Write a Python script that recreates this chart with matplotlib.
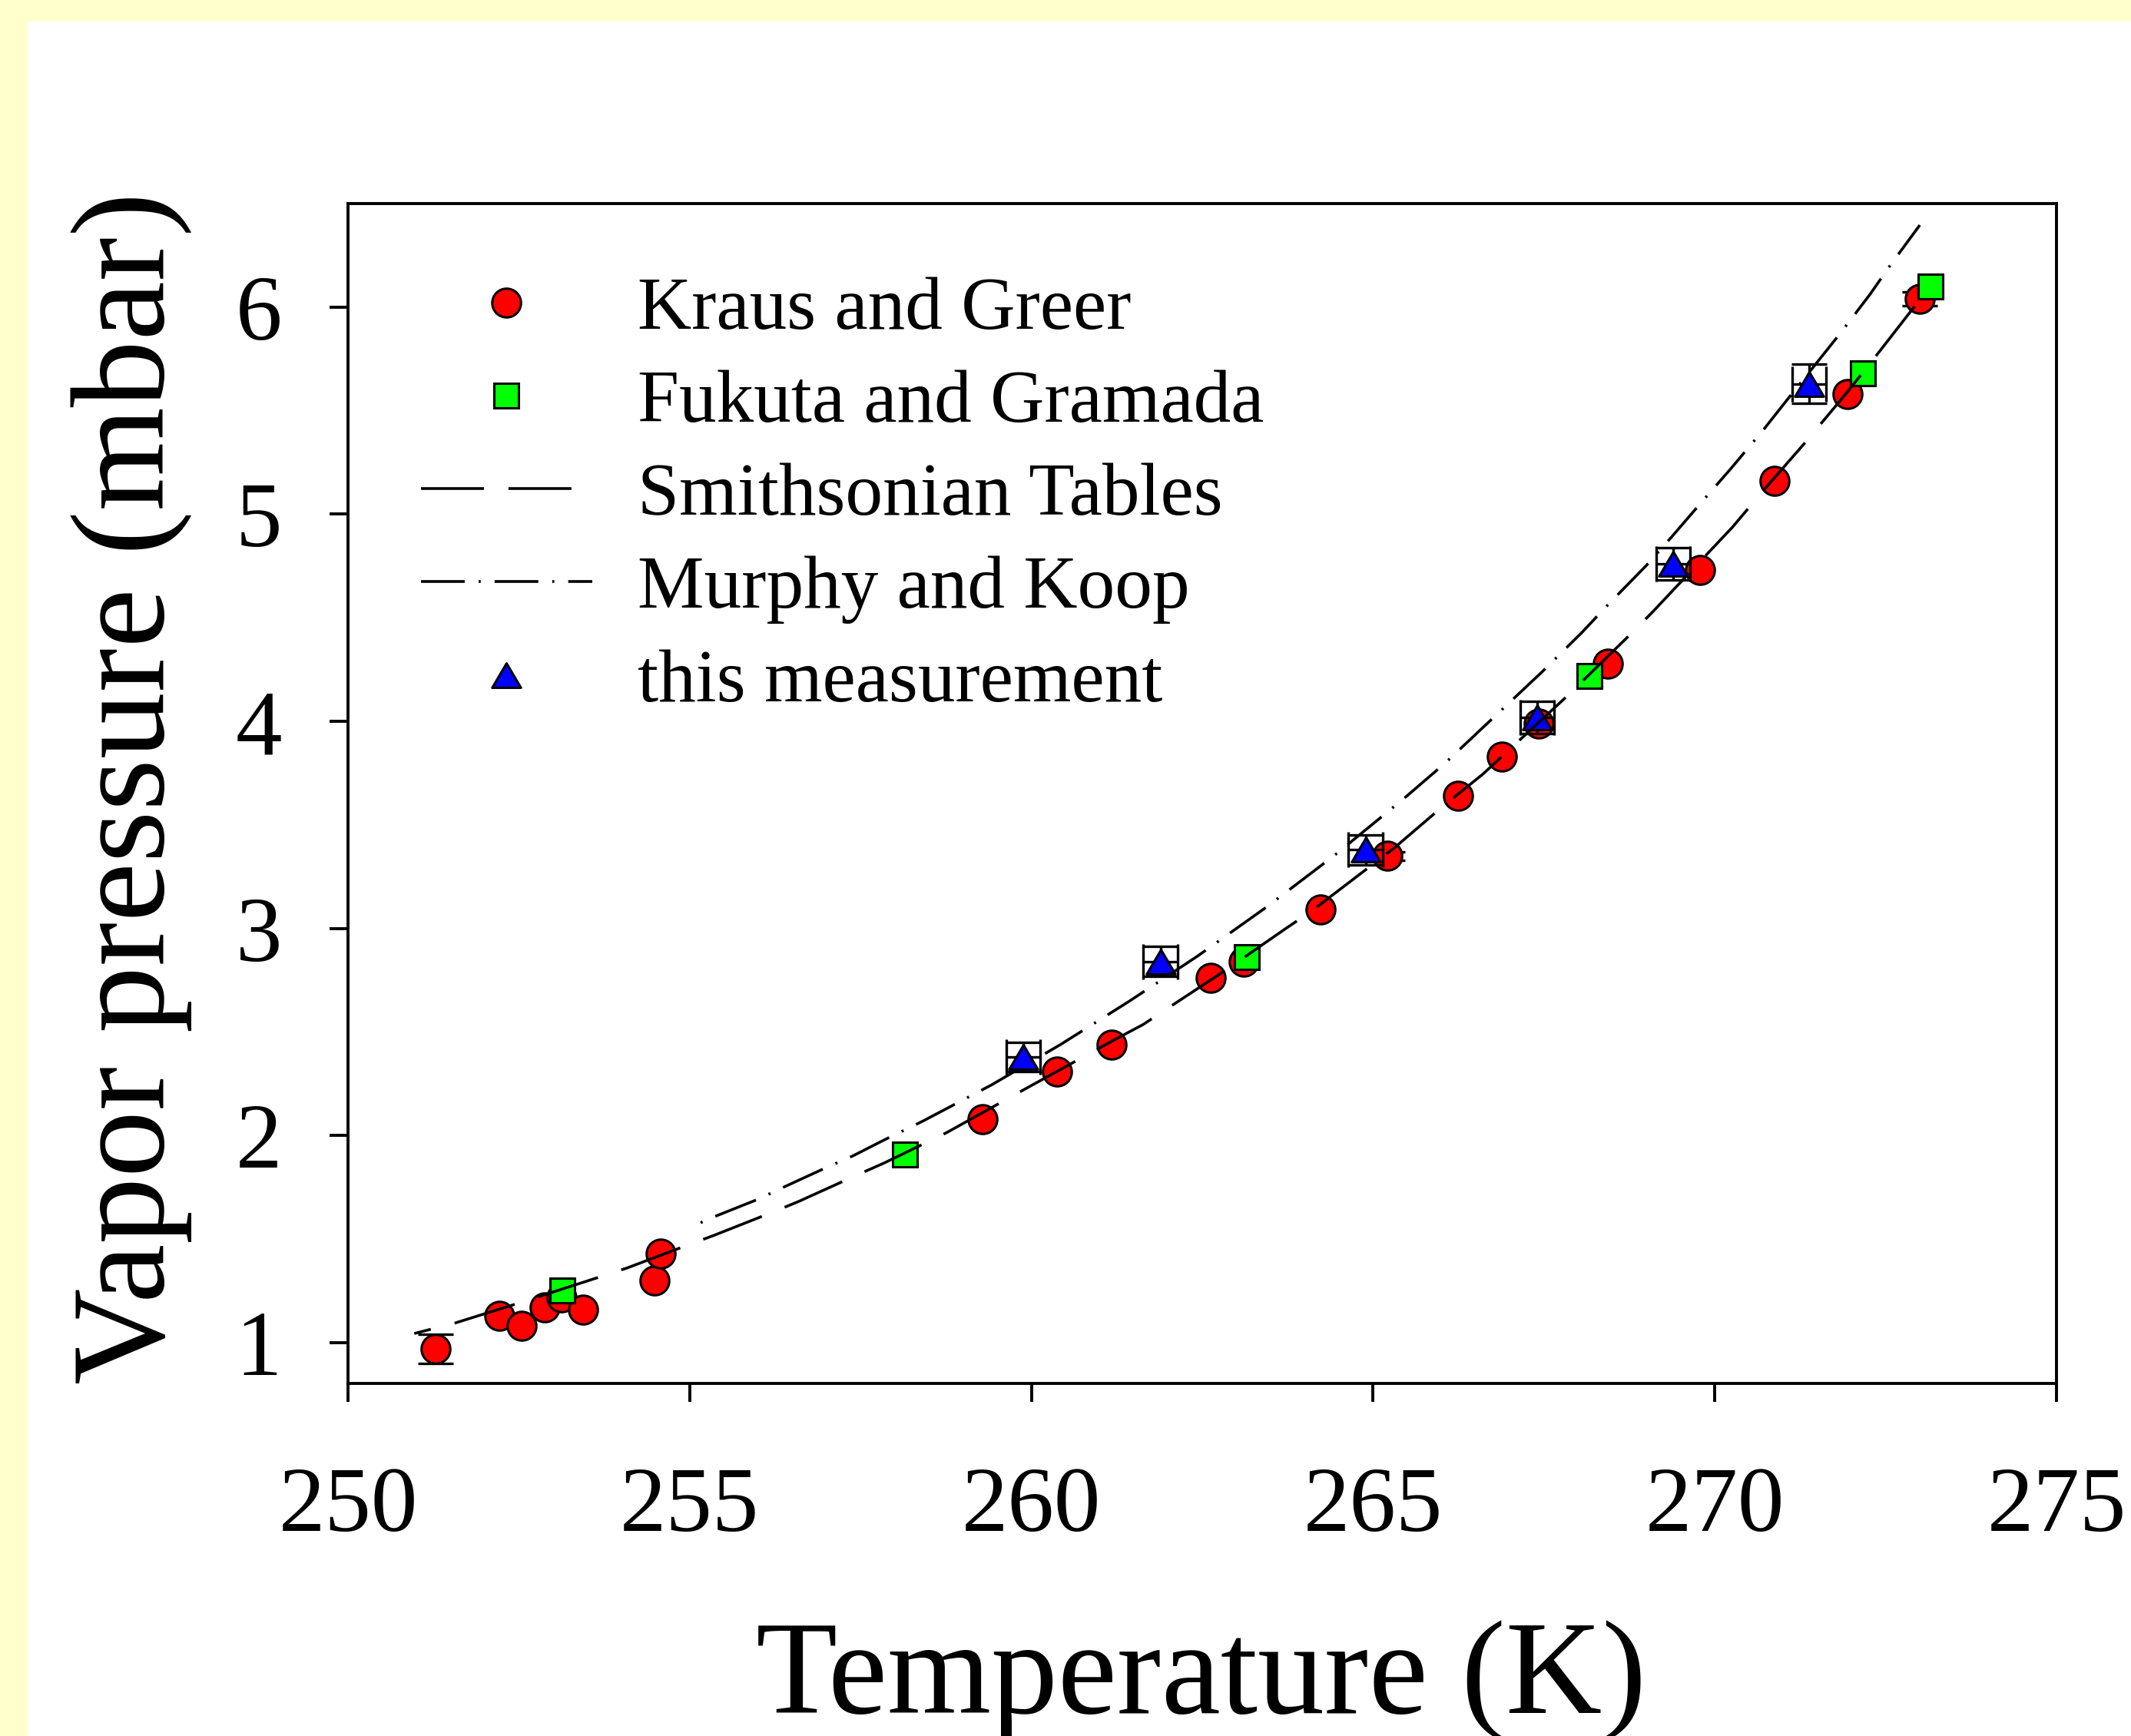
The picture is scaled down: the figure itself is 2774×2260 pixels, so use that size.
import numpy as np
import matplotlib
matplotlib.use("Agg")
import matplotlib.pyplot as plt
from matplotlib.lines import Line2D
from matplotlib.patches import Rectangle
from matplotlib.path import Path

plt.rcParams['font.family'] = ['Liberation Serif', 'DejaVu Serif']
plt.rcParams['lines.scale_dashes'] = False

# ---------------- data ----------------
kraus_T = [251.28, 252.22, 252.54, 252.88, 253.12, 253.44, 254.48, 254.57,
           259.28, 260.37, 261.17, 262.62, 263.11, 264.23, 265.21, 266.24,
           266.88, 267.42, 268.43, 269.78, 270.87, 271.94, 273.00]
kraus_P = [0.97, 1.13, 1.08, 1.17, 1.22, 1.16, 1.30, 1.43,
           2.08, 2.31, 2.44, 2.76, 2.84, 3.09, 3.35, 3.64,
           3.83, 3.99, 4.28, 4.73, 5.16, 5.58, 6.04]
kraus_err = [0.07, 0, 0, 0, 0, 0, 0, 0,
             0, 0, 0, 0, 0, 0, 0.02, 0,
             0, 0, 0, 0, 0, 0, 0.035]

fukuta_T = [253.14, 258.15, 263.15, 268.16, 272.17, 273.16]
fukuta_P = [1.25, 1.91, 2.86, 4.22, 5.68, 6.10]

meas_T = [259.88, 261.89, 264.89, 267.40, 269.39, 271.38]
meas_P = [2.38, 2.84, 3.38, 4.02, 4.76, 5.63]
meas_xerr = [0.25, 0.25, 0.25, 0.25, 0.25, 0.25]
meas_yerr = [0.07, 0.073, 0.073, 0.078, 0.078, 0.095]

smith_T = [250.97, 251.57, 252.47, 253.73, 254.08, 254.97, 255.34, 256.23,
           256.59, 257.48, 257.85, 258.76, 259.97, 261.23, 261.63, 262.89,
           263.72, 264.10, 265.30, 266.02, 266.61, 267.85, 268.74, 269.09,
           269.92, 270.26, 270.72, 271.32, 271.94, 272.33, 273.00]
smith_P = [1.044, 1.095, 1.188, 1.322, 1.360, 1.471, 1.516, 1.632,
           1.681, 1.814, 1.868, 2.014, 2.236, 2.465, 2.535, 2.809,
           2.999, 3.084, 3.386, 3.589, 3.746, 4.125, 4.412, 4.528,
           4.819, 4.938, 5.118, 5.345, 5.590, 5.752, 6.036]

mk_T = [255.16, 255.39, 255.99, 256.39, 256.99, 257.39, 257.83, 258.42,
        259.42, 260.43, 261.43, 262.43, 263.44, 264.44, 265.45, 266.05,
        267.47, 268.05, 268.44, 269.00, 269.37, 269.89, 270.23, 270.72,
        271.06, 271.84, 272.27, 272.57, 273.00]
mk_P = [1.579, 1.612, 1.691, 1.753, 1.844, 1.902, 1.976, 2.071,
        2.245, 2.440, 2.648, 2.866, 3.103, 3.354, 3.627, 3.797,
        4.238, 4.427, 4.564, 4.753, 4.891, 5.090, 5.218, 5.411,
        5.553, 5.875, 6.061, 6.203, 6.396]

x_ticks = [250, 255, 260, 265, 270, 275]
y_ticks = [1, 2, 3, 4, 5, 6]
labels = ["Kraus and Greer", "Fukuta and Gramada", "Smithsonian Tables",
          "Murphy and Koop", "this measurement"]

# ---------------- figure ----------------
W, H = 2774, 2260
DPI = 100
fig = plt.figure(figsize=(W / DPI, H / DPI), dpi=DPI, facecolor='#FFFFCC')
fig.patches.append(Rectangle((36 / W, 0), 1, 1 - 28 / H, transform=fig.transFigure,
                             facecolor='white', edgecolor='none', zorder=-10))

ax = fig.add_axes([453 / W, 1 - 1801 / H, (2677 - 453) / W, (1801 - 265) / H])
ax.set_facecolor('white')
ax.set_xlim(250, 275)
ax.set_ylim(0.803, 6.5)

tri = Path([(0, 0.85), (-1, -0.85), (1, -0.85), (0, 0.85)],
           [Path.MOVETO, Path.LINETO, Path.LINETO, Path.CLOSEPOLY])

lw_curve = 2.6
mew = 2.2
elw = 2.4
smith_ls = (43, (59, 23))
mk_ls = (0, (2, 13, 41, 13))
mk_leg_ls = (0, (41, 13, 2, 13))

# Kraus and Greer
kT = np.array(kraus_T); kP = np.array(kraus_P); kE = np.array(kraus_err)
m = kE > 0
ax.errorbar(kT[m], kP[m], yerr=kE[m], fmt='none', ecolor='black',
            elinewidth=elw, capsize=16.5, capthick=elw, zorder=2)
ax.plot(kT, kP, ls='none', marker='o', ms=27, mfc='#FF0000', mec='black',
        mew=mew, zorder=3)

# this measurement
ax.errorbar(meas_T, meas_P, xerr=meas_xerr, yerr=meas_yerr, fmt='none',
            ecolor='black', elinewidth=elw, capsize=16.5, capthick=elw, zorder=3.5)
ax.plot(meas_T, meas_P, ls='none', marker=tri, ms=27, mfc='#0000FF',
        mec='black', mew=mew, zorder=4)

# Fukuta and Gramada
ax.plot(fukuta_T, fukuta_P, ls='none', marker='s', ms=23.5, mfc='#00FF00',
        mec='black', mew=mew, zorder=4.5)

# curves
ax.plot(smith_T, smith_P, color='black', lw=lw_curve, ls=smith_ls,
        dash_capstyle='butt', zorder=5)
ax.plot(mk_T, mk_P, color='black', lw=lw_curve, ls=mk_ls,
        dash_capstyle='butt', zorder=5)

# axes styling
for s in ax.spines.values():
    s.set_linewidth(2.8)
ax.set_xticks(x_ticks)
ax.set_yticks(y_ticks)
ax.tick_params(axis='both', which='both', direction='out', length=17, width=2.8,
               labelsize=87, top=False, right=False)
ax.tick_params(axis='x', pad=61)
ax.tick_params(axis='y', pad=45)

fig.text(1564 / W, 1 - 2230 / H, "Temperature (K)", fontsize=125,
         ha='center', va='baseline')
fig.text(213 / W, 1 - 1026 / H, "Vapor pressure (mbar)", fontsize=125,
         rotation=90, rotation_mode='anchor', ha='center', va='baseline')

# legend
handles = [
    Line2D([], [], ls='none', marker='o', ms=27, mfc='#FF0000', mec='black', mew=mew),
    Line2D([], [], ls='none', marker='s', ms=23.5, mfc='#00FF00', mec='black', mew=mew),
    Line2D([], [], color='black', lw=lw_curve, ls=(0, (59, 23)), dash_capstyle='butt'),
    Line2D([], [], color='black', lw=lw_curve, ls=mk_leg_ls, dash_capstyle='butt'),
    Line2D([], [], ls='none', marker=tri, ms=27, mfc='#0000FF', mec='black', mew=mew),
]
fs_leg = 70
ax.legend(handles, labels, loc='upper left',
          bbox_to_anchor=(548 / W, 1 - 360 / H), bbox_transform=fig.transFigure,
          frameon=False, fontsize=fs_leg, handlelength=2.29, handletextpad=0.61,
          labelspacing=0.33, borderpad=0, borderaxespad=0, numpoints=1)

fig.savefig("out.png", dpi=DPI, facecolor=fig.get_facecolor())
